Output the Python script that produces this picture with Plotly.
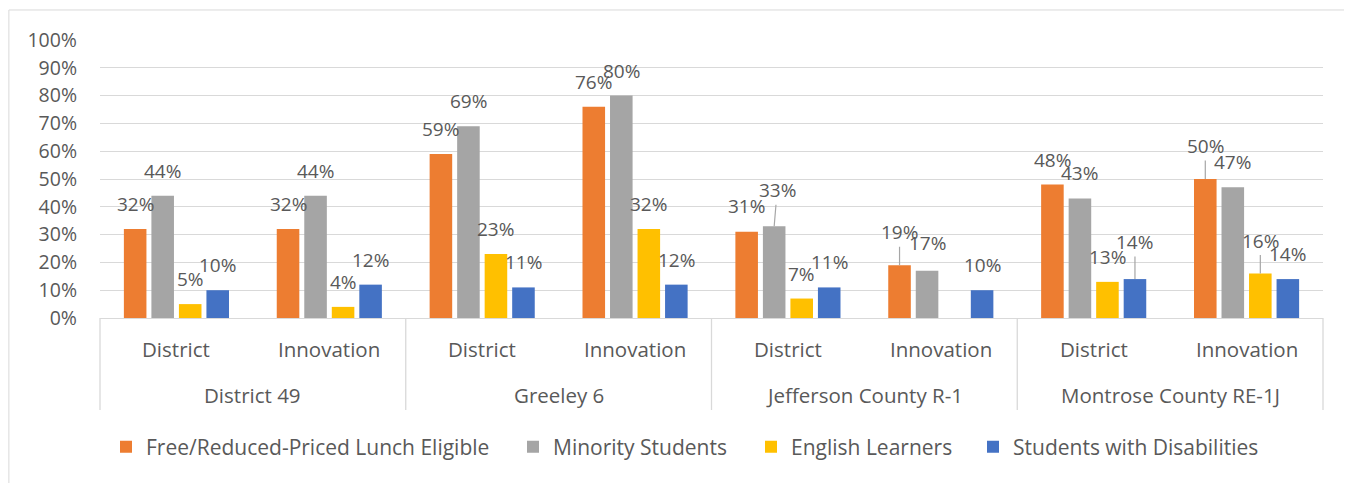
import plotly.graph_objects as go

groups = ["District 49", "Greeley 6", "Jefferson County R-1", "Montrose County RE-1J"]
subs = ["District", "Innovation"]
categories = [(g, s) for g in groups for s in subs]

frl = [0.32, 0.32, 0.59, 0.76, 0.31, 0.19, 0.48, 0.50]
minority = [0.44, 0.44, 0.69, 0.80, 0.33, 0.17, 0.43, 0.47]
english = [0.05, 0.04, 0.23, 0.32, 0.07, None, 0.13, 0.16]
disab = [0.10, 0.12, 0.11, 0.12, 0.11, 0.10, 0.14, 0.14]

series_names = ["Free/Reduced-Priced Lunch Eligible", "Minority Students",
                "English Learners", "Students with Disabilities"]
series_values = [frl, minority, english, disab]
series_colors = ["#ED7D31", "#A5A5A5", "#FFC000", "#4472C4"]

# label placement (layout only): (series, category) -> (dx px, dy px above bar top, leader line)
label_nudge = {
    (0, 4): (0, 26, False),
    (1, 4): (3, 36, True),
    (0, 5): (0, 33, True),
    (1, 5): (0, 28, False),
    (3, 6): (0, 37, True),
    (0, 7): (0, 33, True),
    (2, 7): (0, 33, True),
}
DEFAULT_DY = 25

FONT = "Open Sans"
TXT = "#595959"
GRID = "#D9D9D9"
PLOT_H = 278.0
PLOT_W = 1223.0
BARGAP = 0.28
BARGROUPGAP = 0.18
ns = len(series_names)
slot = (1 - BARGAP) / ns
xpos = list(range(len(categories)))

fig = go.Figure()
for k, (name, vals, col) in enumerate(zip(series_names, series_values, series_colors)):
    fig.add_trace(go.Bar(
        x=xpos, y=vals, name=name, marker_color=col, marker_line_width=0,
        legend="legend" if k == 0 else f"legend{k + 1}",
        hovertemplate="%{y:.0%}<extra>" + name + "</extra>",
    ))

annotations = []
# data labels
for k, vals in enumerate(series_values):
    for i, v in enumerate(vals):
        if v is None:
            continue
        dx, dy, leader = label_nudge.get((k, i), (0, DEFAULT_DY, False))
        xc = i + (k - (ns - 1) / 2) * slot
        common = dict(text=f"{round(v * 100)}%", x=xc, y=v, xref="x", yref="y",
                      font=dict(size=19, color=TXT, family=FONT),
                      xanchor="center", yanchor="middle")
        if leader:
            annotations.append(dict(common, showarrow=True, ax=dx, ay=-dy,
                                    axref="pixel", ayref="pixel", arrowhead=0,
                                    arrowwidth=1.2, arrowcolor="#A6A6A6", standoff=0,
                                    startstandoff=0))
        else:
            annotations.append(dict(common, showarrow=False, xshift=dx, yshift=dy))

# category labels
for i, (g, s) in enumerate(categories):
    annotations.append(dict(text=s, xref="x", yref="paper", x=i, y=-31 / PLOT_H,
                            showarrow=False, xanchor="center", yanchor="middle",
                            font=dict(size=20.5, color=TXT, family=FONT)))
ng = len(groups)
for gi, g in enumerate(groups):
    annotations.append(dict(text=g, xref="paper", yref="paper",
                            x=(gi + 0.5) / ng, y=-77 / PLOT_H, showarrow=False,
                            xanchor="center", yanchor="middle",
                            font=dict(size=20.5, color=TXT, family=FONT)))

shapes = [dict(type="rect", xref="paper", yref="paper",
               x0=-0.0745, x1=1.018, y0=-0.62, y1=1.108,
               line=dict(color=GRID, width=1), fillcolor="rgba(0,0,0,0)",
               layer="below")]
for gi in range(ng + 1):
    shapes.append(dict(type="line", xref="paper", yref="paper",
                       x0=gi / ng, x1=gi / ng, y0=0, y1=-92 / PLOT_H,
                       line=dict(color=GRID, width=1.3)))

# legends: target left edge of each symbol in page pixels
legend_sym_left = [118, 525, 763, 985]
SYM_OFFSET = 12
legends = {}
for k, sx in enumerate(legend_sym_left):
    key = "legend" if k == 0 else f"legend{k + 1}"
    legends[key] = dict(orientation="h", x=(sx - SYM_OFFSET - 100) / PLOT_W,
                        xanchor="left", y=-129 / PLOT_H, yanchor="middle",
                        font=dict(size=21, color=TXT, family=FONT),
                        itemwidth=30, bgcolor="rgba(0,0,0,0)")

fig.update_layout(
    width=1352, height=483,
    margin=dict(l=92, r=37, t=32, b=173),
    paper_bgcolor="white", plot_bgcolor="white",
    barmode="group", bargap=BARGAP, bargroupgap=BARGROUPGAP,
    font=dict(family=FONT, size=19, color=TXT),
    showlegend=True,
    yaxis=dict(range=[0, 1.0], dtick=0.1, tickformat=".0%", showgrid=True,
               gridcolor=GRID, gridwidth=1.3, zeroline=False, showline=False,
               tickfont=dict(size=19.5, color=TXT, family=FONT), ticks="",
               ticklabelstandoff=22, fixedrange=True),
    xaxis=dict(type="linear", range=[-0.5, len(categories) - 0.5],
               showline=True, linecolor=GRID, linewidth=1.3, showgrid=False,
               zeroline=False, showticklabels=False, ticks="", fixedrange=True),
    annotations=annotations,
    shapes=shapes,
    **legends,
)

fig.write_html("out.html")
